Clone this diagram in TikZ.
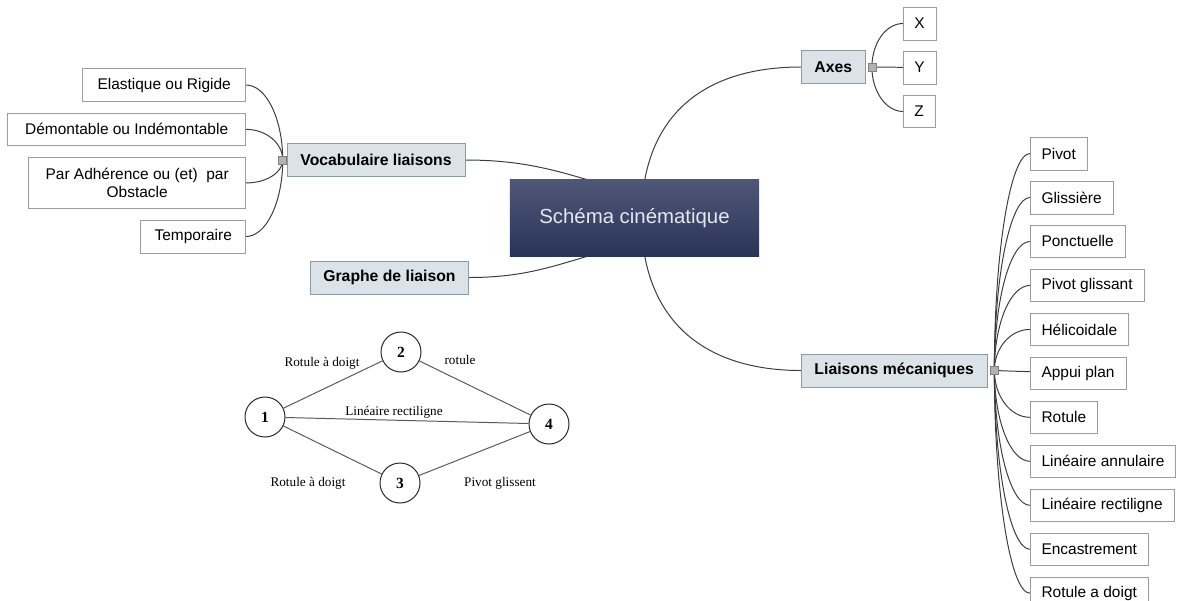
\documentclass[tikz,border=0pt]{standalone}
\usepackage{fontspec}
\setmainfont{Liberation Sans}
\newfontfamily\graphfont{Liberation Serif}
\usetikzlibrary{positioning, calc, backgrounds}

\definecolor{topicfill}{HTML}{DCE3E8}
\definecolor{topicdraw}{HTML}{8C9AA5}
\definecolor{leafdraw}{HTML}{9C9C9C}
\definecolor{linkcol}{HTML}{3C3C3C}
\definecolor{centretop}{HTML}{4E5777}
\definecolor{centrebot}{HTML}{2A3459}
\definecolor{centretext}{HTML}{E4E7EE}

\tikzset{
  centre/.style={top color=centretop, bottom color=centrebot, minimum width=6.225cm, minimum height=1.9cm, text=centretext, font=\fontsize{14.5}{17}\selectfont},
  topic/.style={draw=topicdraw, fill=topicfill, minimum height=0.815cm, inner xsep=0.33cm, font=\fontsize{11.2}{13}\selectfont\bfseries},
  leaf/.style={draw=leafdraw, fill=white, minimum height=0.815cm, inner xsep=0.28cm, font=\fontsize{11}{12.5}\selectfont},
  handle/.style={draw=gray, fill=gray!60, minimum size=0.2cm, inner sep=0pt},
  link/.style={draw=linkcol, line width=0.7pt},
  branch/.style={to path={.. controls ($(\tikztostart)!0.55!(\tikztostart |- \tikztotarget)$) and ($(\tikztotarget)!0.55!(\tikztostart |- \tikztotarget)$) .. (\tikztotarget)}},
  piece/.style={circle, draw=black!85, line width=0.7pt, minimum size=1cm, inner sep=0pt, font=\graphfont\fontsize{11}{13}\selectfont\bfseries},
  gline/.style={draw=black!65, line width=0.7pt},
  glabel/.style={font=\graphfont\fontsize{9.4}{11}\selectfont}
}

\begin{document}
\begin{tikzpicture}[x=0.025cm, y=-0.025cm]
  \useasboundingbox (0,0) rectangle (1181,600);

  % centre and main topics
  \node[centre] (sc) at (634.5,218) {Schéma cinématique};
  \node[topic, anchor=west] (axes) at (801,67) {Axes};
  \node[topic, anchor=west] (voc) at (287,160) {Vocabulaire liaisons};
  \node[topic, anchor=east] (gl) at (469,277.5) {Graphe de liaison};
  \node[topic, anchor=west] (lm) at (801,370.5) {Liaisons mécaniques};

  \node[handle, left=0pt of voc] (hv) {};
  \node[handle, right=0.05cm of axes] (ha) {};
  \node[handle, right=0.07cm of lm] (hl) {};

  % axes
  \node[leaf, anchor=west] (ax) at (903,23.5) {X};
  \node[leaf, below=0.27cm of ax.south west, anchor=north west] (ay) {Y};
  \node[leaf, below=0.27cm of ay.south west, anchor=north west] (az) {Z};

  % vocabulaire
  \node[leaf, anchor=east, minimum width=4.075cm] (elast) at (246,85) {Elastique ou Rigide};
  \node[leaf, below=0.28cm of elast.south east, anchor=north east, minimum width=5.95cm] (demont) {Démontable ou Indémontable};
  \node[leaf, below=0.28cm of demont.south east, anchor=north east, minimum width=5.425cm, minimum height=1.275cm, align=center] (adher) {Par Adhérence ou (et)~ par\\Obstacle};
  \node[leaf, below=0.28cm of adher.south east, anchor=north east, minimum width=2.625cm] (tempo) {Temporaire};

  % liaisons
  \node[leaf, anchor=west] (pivot) at (1030,153.5) {Pivot};
  \node[leaf, below=0.27cm of pivot.south west, anchor=north west] (gliss) {Glissière};
  \node[leaf, below=0.27cm of gliss.south west, anchor=north west] (ponct) {Ponctuelle};
  \node[leaf, below=0.27cm of ponct.south west, anchor=north west] (pglis) {Pivot glissant};
  \node[leaf, below=0.27cm of pglis.south west, anchor=north west] (helic) {Hélicoidale};
  \node[leaf, below=0.27cm of helic.south west, anchor=north west] (appui) {Appui plan};
  \node[leaf, below=0.27cm of appui.south west, anchor=north west] (rotule) {Rotule};
  \node[leaf, below=0.27cm of rotule.south west, anchor=north west] (lann) {Linéaire annulaire};
  \node[leaf, below=0.27cm of lann.south west, anchor=north west] (lrect) {Linéaire rectiligne};
  \node[leaf, below=0.27cm of lrect.south west, anchor=north west] (encas) {Encastrement};
  \node[leaf, below=0.27cm of encas.south west, anchor=north west] (rdoigt) {Rotule a doigt};

  \begin{scope}[on background layer]
  % branches from the centre
  \draw[link] (sc.75) .. controls +(15,-80) and +(-80,0) .. (axes.west);
  \draw[link] (sc.-75) .. controls +(15,80) and +(-80,0) .. (lm.west);
  \draw[link] (sc.141) .. controls +(-40,-12) and +(50,0) .. (voc.east);
  \draw[link] (sc.219) .. controls +(-40,12) and +(50,0) .. (gl.east);

  \draw[link] (ha.center) to[branch] (ax.west);
  \draw[link] (ha) -- (ay);
  \draw[link] (ha.center) to[branch] (az.west);

  \draw[link] (hv.center) to[branch] (elast.east);
  \draw[link] (hv.center) to[branch] (demont.east);
  \draw[link] (hv.center) to[branch] (adher.east);
  \draw[link] (hv.center) to[branch] (tempo.east);

  \draw[link] (hl.center) to[branch] (pivot.west);
  \draw[link] (hl.center) to[branch] (gliss.west);
  \draw[link] (hl.center) to[branch] (ponct.west);
  \draw[link] (hl.center) to[branch] (pglis.west);
  \draw[link] (hl.center) to[branch] (helic.west);
  \draw[link] (hl) -- (appui);
  \draw[link] (hl.center) to[branch] (rotule.west);
  \draw[link] (hl.center) to[branch] (lann.west);
  \draw[link] (hl.center) to[branch] (lrect.west);
  \draw[link] (hl.center) to[branch] (encas.west);
  \draw[link] (hl.center) to[branch] (rdoigt.west);
  \end{scope}

  % graphe de liaison
  \node[piece] (g1) at (265,417) {1};
  \node[piece] (g2) at (401,352) {2};
  \node[piece] (g3) at (400,483) {3};
  \node[piece] (g4) at (549,424) {4};

  \draw[gline] (g1) -- (g2);
  \draw[gline] (g2) -- (g4);
  \draw[gline] (g1) -- (g4);
  \draw[gline] (g1) -- (g3);
  \draw[gline] (g3) -- (g4);

  \node[glabel] (l12) at (322,363) {Rotule à doigt};
  \node[glabel] (l24) at (460,360) {rotule};
  \node[glabel] (l14) at (394,412) {Linéaire rectiligne};
  \node[glabel] (l13) at (308,483) {Rotule à doigt};
  \node[glabel] (l34) at (500,483) {Pivot glissent};
\end{tikzpicture}
\end{document}
